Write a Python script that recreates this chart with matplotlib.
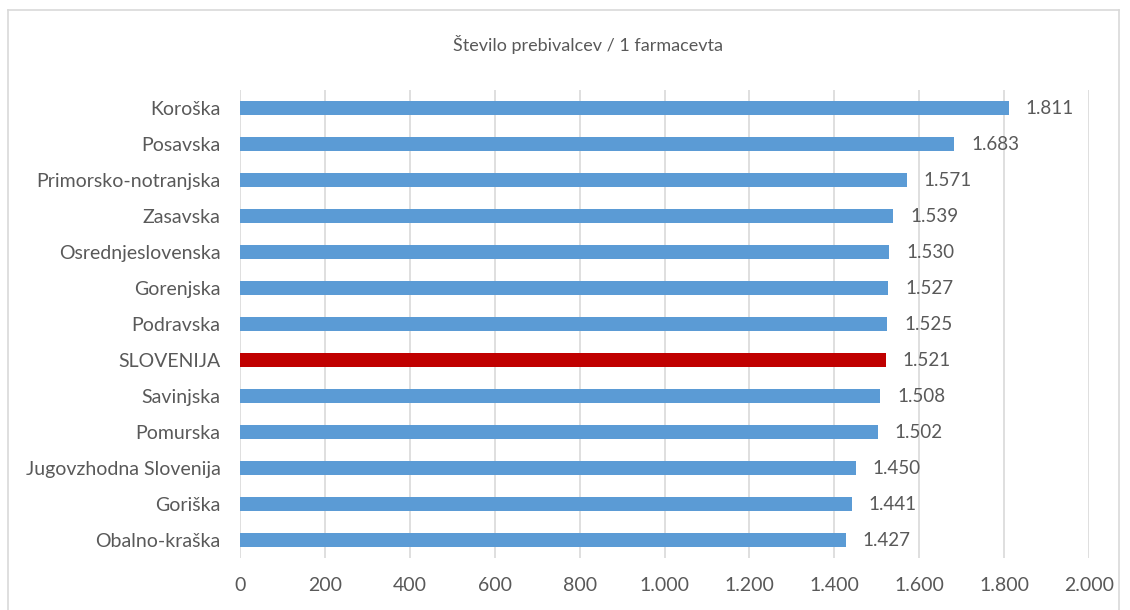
import matplotlib
matplotlib.use("Agg")
import matplotlib.pyplot as plt
from matplotlib.ticker import FuncFormatter
from matplotlib.lines import Line2D

regions = ["Koroška", "Posavska", "Primorsko-notranjska", "Zasavska",
           "Osrednjeslovenska", "Gorenjska", "Podravska", "SLOVENIJA",
           "Savinjska", "Pomurska", "Jugovzhodna Slovenija", "Goriška",
           "Obalno-kraška"]
values = [1811, 1683, 1571, 1539, 1530, 1527, 1525, 1521, 1508, 1502, 1450, 1441, 1427]
highlight = "SLOVENIJA"
x_ticks = [0, 200, 400, 600, 800, 1000, 1200, 1400, 1600, 1800, 2000]

plt.rcParams['font.family'] = ['Lato', 'DejaVu Sans']
txt = "#595959"

def dots(v):
    return f"{int(v):,}".replace(",", ".")

fig = plt.figure(figsize=(11.3, 6.1), dpi=100)
ax = fig.add_axes([240 / 1130, 1 - 558 / 610, (1089 - 240) / 1130, (558 - 90) / 610])

pos = list(range(len(regions)))
colors = ["#C00000" if r == highlight else "#5B9BD5" for r in regions]
ax.barh(pos, values, height=0.4, color=colors, zorder=3)
for p, v in zip(pos, values):
    ax.text(v + 40, p, dots(v), va="center", ha="left", fontsize=13.5, color=txt)

ax.set_ylim(len(regions) - 0.5, -0.5)
ax.set_yticks(pos)
ax.set_yticklabels(regions, fontsize=14, color=txt)
ax.set_xlim(0, 2000)
ax.set_xticks(x_ticks)
ax.xaxis.set_major_formatter(FuncFormatter(lambda v, p: dots(v)))
ax.tick_params(axis="x", labelsize=14, colors=txt, length=0, pad=14)
ax.tick_params(axis="y", length=0, pad=14)
ax.grid(axis="x", color="#D9D9D9", linewidth=1.2, zorder=0)
for s in ax.spines.values():
    s.set_visible(False)

fig.text(588 / 1130, 1 - 45 / 610, "Število prebivalcev / 1 farmacevta",
         ha="center", va="center", fontsize=13, color=txt)

# chart frame
l, r, t = 8 / 1130, 1119 / 1130, 1 - 10 / 610
for xs, ys in [([l, l], [0, t]), ([l, r], [t, t]), ([r, r], [t, 0])]:
    fig.add_artist(Line2D(xs, ys, color="#D9D9D9", linewidth=1.2, transform=fig.transFigure))

fig.savefig("out.png", dpi=100)
